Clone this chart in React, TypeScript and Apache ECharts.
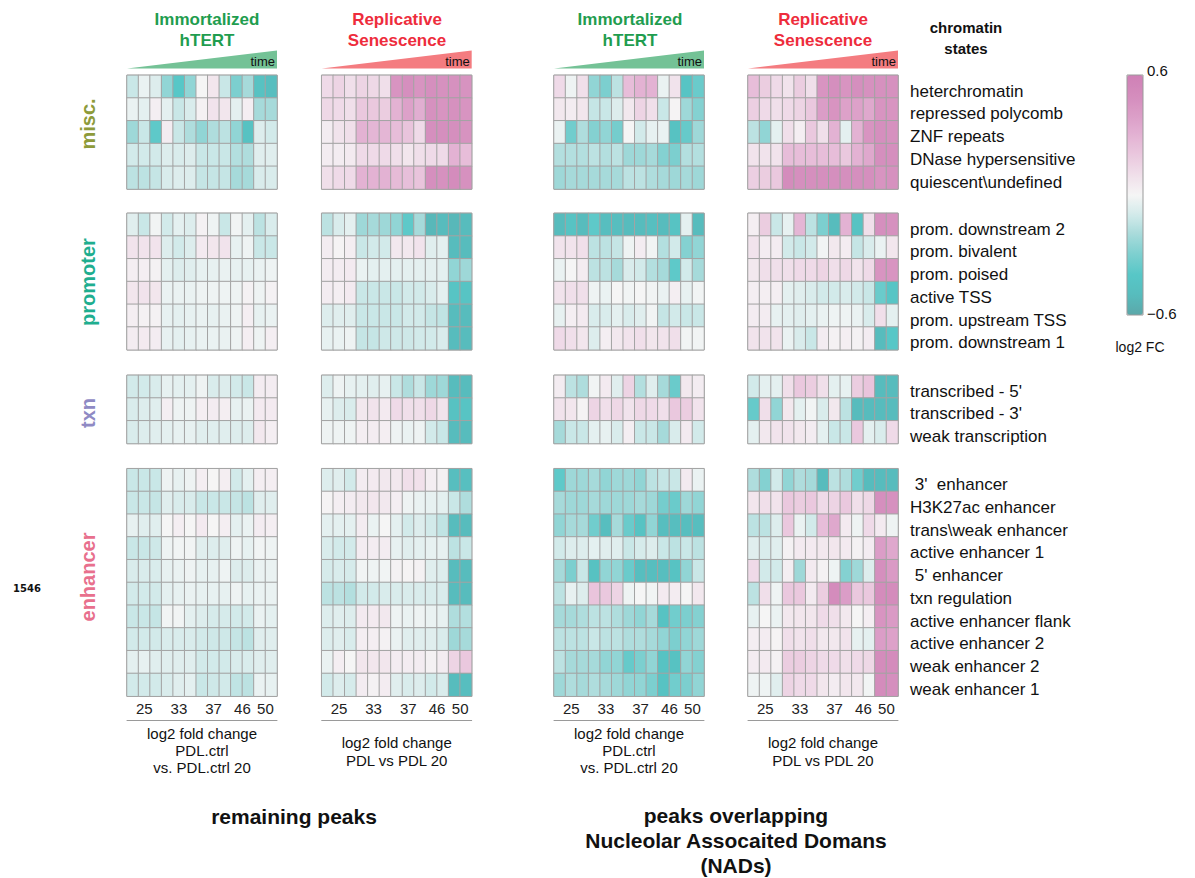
import React, { useEffect, useRef } from 'react';
import * as echarts from 'echarts';

const miscStates = ['heterchromatin', 'repressed polycomb', 'ZNF repeats', 'DNase hypersensitive', 'quiescent\\undefined'];
const promoterStates = ['prom. downstream 2', 'prom. bivalent', 'prom. poised', 'active TSS', 'prom. upstream TSS', 'prom. downstream 1'];
const txnStates = ["transcribed - 5'", "transcribed - 3'", 'weak transcription'];
const enhancerStates = [" 3'  enhancer", 'H3K27ac enhancer', 'trans\\weak enhancer', 'active enhancer 1', " 5' enhancer", 'txn regulation', 'active enhancer flank', 'active enhancer 2', 'weak enhancer 2', 'weak enhancer 1'];

const columnPDL = [25, 25, 25, 33, 33, 33, 37, 37, 37, 46, 46, 50, 50];
const pdlTicks = [25, 33, 37, 46, 50];

// Panel 1: Immortalized hTERT, remaining peaks
const hRemMisc = [
  [-0.12, -0.03, -0.07, -0.25, -0.4, -0.25, 0.0, 0.07, -0.12, -0.3, -0.2, -0.45, -0.48],
  [-0.03, -0.05, 0.03, -0.05, -0.12, -0.08, 0.02, 0.08, 0.07, -0.05, 0.03, -0.2, -0.2],
  [-0.22, -0.12, -0.38, 0.04, -0.12, -0.18, -0.25, -0.18, -0.15, -0.25, -0.45, -0.07, -0.1],
  [-0.1, -0.1, -0.1, -0.07, -0.08, -0.07, -0.12, -0.12, -0.12, -0.17, -0.18, -0.06, -0.06],
  [-0.15, -0.15, -0.13, -0.08, -0.07, -0.07, -0.13, -0.13, -0.13, -0.2, -0.2, -0.08, -0.08],
];
const hRemProm = [
  [-0.06, -0.12, -0.01, -0.1, -0.05, -0.07, 0.02, -0.02, -0.12, -0.01, -0.05, -0.15, -0.08],
  [0.08, 0.08, 0.08, -0.07, -0.1, -0.07, 0.05, 0.07, 0.08, -0.04, -0.02, -0.12, -0.12],
  [0.03, 0.03, 0.02, -0.05, -0.07, -0.06, -0.04, -0.04, -0.03, -0.04, -0.04, -0.03, -0.02],
  [0.07, 0.08, 0.07, -0.03, -0.03, -0.03, -0.02, -0.02, -0.02, -0.02, 0.02, -0.02, 0.02],
  [0.03, 0.02, 0.02, -0.04, -0.05, -0.04, -0.03, -0.04, -0.03, -0.02, 0.03, -0.04, -0.03],
  [0.04, 0.05, 0.04, -0.04, -0.05, -0.04, -0.03, -0.03, -0.03, -0.02, 0.03, -0.02, 0.03],
];
const hRemTxn = [
  [-0.1, -0.1, -0.08, -0.04, -0.05, -0.05, -0.02, -0.08, -0.07, -0.1, -0.12, 0.04, 0.04],
  [-0.08, -0.07, -0.06, 0.03, -0.02, -0.02, 0.03, 0.04, 0.03, -0.04, -0.03, 0.05, 0.05],
  [-0.08, -0.07, -0.06, -0.05, -0.04, -0.04, -0.06, -0.06, -0.06, -0.07, -0.07, 0.06, 0.03],
];
const hRemEnh = [
  [-0.12, -0.12, -0.12, -0.02, -0.04, -0.02, 0.03, 0.0, 0.03, -0.1, -0.05, 0.03, 0.03],
  [-0.12, -0.12, -0.13, -0.06, -0.08, -0.08, -0.12, -0.12, -0.12, -0.13, -0.15, -0.06, -0.06],
  [-0.04, -0.06, -0.06, 0.0, 0.03, 0.0, 0.05, 0.0, 0.03, -0.05, -0.03, 0.04, 0.03],
  [-0.12, -0.12, -0.11, -0.02, -0.01, -0.01, -0.06, -0.07, -0.06, -0.02, -0.04, -0.01, -0.02],
  [-0.08, -0.08, -0.08, -0.04, -0.03, -0.02, -0.04, -0.04, -0.02, -0.07, -0.07, -0.03, -0.03],
  [-0.1, -0.1, -0.1, -0.05, -0.04, -0.03, -0.04, -0.04, -0.04, -0.02, -0.04, -0.03, -0.03],
  [-0.12, -0.12, -0.13, -0.01, -0.01, -0.05, -0.07, -0.09, -0.09, -0.1, -0.1, -0.03, -0.05],
  [-0.1, -0.1, -0.1, -0.08, -0.08, -0.08, -0.1, -0.11, -0.11, -0.13, -0.15, -0.06, -0.06],
  [-0.05, -0.04, -0.06, -0.06, -0.06, -0.06, -0.1, -0.1, -0.1, -0.08, -0.08, -0.06, -0.06],
  [-0.1, -0.1, -0.1, -0.08, -0.06, -0.05, -0.12, -0.11, -0.1, -0.14, -0.15, -0.03, -0.04],
];

// Panel 2: Replicative Senescence, remaining peaks
const rRemMisc = [
  [0.12, 0.15, 0.1, 0.15, 0.13, 0.1, 0.45, 0.48, 0.45, 0.48, 0.47, 0.47, 0.46],
  [0.13, 0.12, 0.1, 0.2, 0.2, 0.18, 0.3, 0.38, 0.32, 0.47, 0.45, 0.47, 0.45],
  [0.04, 0.08, 0.1, 0.3, 0.28, 0.28, 0.25, 0.22, 0.12, 0.48, 0.48, 0.48, 0.46],
  [0.04, 0.04, 0.05, 0.12, 0.12, 0.12, 0.1, 0.07, 0.1, 0.12, 0.12, 0.3, 0.25],
  [0.1, 0.12, 0.12, 0.3, 0.3, 0.3, 0.26, 0.24, 0.22, 0.48, 0.47, 0.5, 0.47],
];
const rRemProm = [
  [-0.15, -0.08, -0.05, -0.22, -0.2, -0.22, -0.25, -0.38, -0.2, -0.52, -0.5, -0.52, -0.5],
  [0.04, 0.01, 0.03, -0.12, -0.1, -0.1, 0.06, 0.06, 0.08, -0.06, -0.05, -0.5, -0.5],
  [0.04, 0.04, 0.05, -0.03, -0.05, -0.05, -0.05, -0.05, -0.05, -0.05, -0.05, -0.25, -0.22],
  [0.04, 0.03, 0.05, -0.12, -0.12, -0.12, -0.12, -0.1, -0.1, -0.08, -0.05, -0.43, -0.43],
  [-0.07, -0.06, -0.06, -0.12, -0.12, -0.12, -0.12, -0.1, -0.1, -0.13, -0.14, -0.5, -0.5],
  [-0.04, -0.03, -0.02, -0.13, -0.13, -0.11, -0.11, -0.11, -0.1, -0.1, -0.08, -0.5, -0.5],
];
const rRemTxn = [
  [-0.07, -0.02, -0.04, -0.05, -0.06, -0.04, -0.12, -0.18, -0.12, -0.22, -0.22, -0.5, -0.5],
  [-0.04, -0.07, -0.08, 0.06, 0.08, 0.05, 0.12, 0.1, 0.1, 0.13, 0.08, -0.45, -0.43],
  [-0.02, -0.02, -0.02, 0.03, 0.04, 0.03, -0.02, -0.03, -0.02, -0.1, -0.12, -0.5, -0.5],
];
const rRemEnh = [
  [-0.07, -0.06, -0.1, 0.04, 0.05, 0.06, 0.06, 0.1, 0.09, 0.03, 0.02, -0.48, -0.47],
  [0.01, 0.03, 0.04, 0.06, 0.07, 0.06, 0.03, -0.02, -0.03, -0.04, -0.05, -0.12, -0.18],
  [-0.05, -0.05, -0.05, 0.04, -0.03, 0.0, -0.05, -0.1, -0.07, -0.1, -0.14, -0.5, -0.5],
  [-0.08, -0.1, -0.1, 0.04, 0.04, 0.04, -0.04, -0.06, -0.05, -0.04, -0.04, -0.15, -0.12],
  [-0.09, -0.08, -0.09, -0.01, -0.02, -0.01, 0.02, 0.01, 0.02, -0.06, -0.07, -0.5, -0.5],
  [-0.15, -0.15, -0.17, -0.1, -0.1, -0.08, -0.08, -0.08, -0.08, -0.08, -0.08, -0.5, -0.5],
  [-0.07, -0.06, -0.07, 0.05, 0.05, 0.06, -0.02, -0.03, -0.02, -0.03, -0.04, -0.18, -0.17],
  [-0.07, -0.06, -0.08, 0.03, 0.03, 0.02, -0.03, -0.06, -0.06, -0.06, -0.08, -0.22, -0.2],
  [-0.03, 0.03, 0.0, 0.07, 0.07, 0.07, 0.04, 0.04, 0.04, 0.02, 0.04, 0.15, 0.2],
  [-0.1, -0.07, -0.09, 0.04, 0.02, 0.04, -0.06, -0.08, -0.07, -0.1, -0.08, -0.5, -0.48],
];

// Panel 3: Immortalized hTERT, NAD peaks
const hNadMisc = [
  [0.12, -0.02, 0.1, -0.25, -0.3, -0.15, 0.25, 0.3, 0.3, -0.03, 0.08, -0.43, -0.35],
  [0.06, 0.04, 0.07, -0.13, -0.12, -0.07, 0.06, 0.15, 0.1, -0.12, 0.01, -0.22, -0.28],
  [-0.03, -0.33, -0.18, -0.28, -0.25, -0.32, 0.0, -0.1, -0.04, -0.03, -0.45, -0.36, -0.22],
  [-0.17, -0.17, -0.17, -0.15, -0.17, -0.15, -0.22, -0.22, -0.2, -0.28, -0.3, -0.17, -0.17],
  [-0.22, -0.2, -0.2, -0.2, -0.2, -0.2, -0.15, -0.15, -0.18, -0.2, -0.22, -0.2, -0.22],
];
const hNadProm = [
  [-0.5, -0.44, -0.5, -0.38, -0.48, -0.48, -0.5, -0.5, -0.47, -0.5, -0.44, -0.05, -0.5],
  [0.08, 0.08, 0.1, -0.15, -0.15, -0.13, -0.02, 0.04, -0.01, -0.17, -0.1, -0.28, -0.25],
  [-0.03, 0.0, 0.04, -0.15, -0.15, -0.2, -0.08, -0.1, -0.17, -0.2, -0.38, -0.1, -0.2],
  [0.08, 0.1, 0.1, -0.02, -0.03, 0.0, -0.01, 0.0, -0.01, -0.03, 0.03, -0.04, -0.01],
  [-0.04, 0.03, 0.05, -0.08, -0.08, -0.05, -0.08, -0.06, -0.01, -0.13, -0.1, -0.12, -0.12],
  [0.12, 0.1, 0.07, -0.07, 0.03, 0.06, 0.08, 0.1, 0.07, 0.08, 0.1, -0.01, -0.01],
];
const hNadTxn = [
  [0.04, -0.15, -0.18, -0.01, 0.05, -0.06, 0.15, -0.17, -0.06, -0.2, -0.35, 0.06, 0.04],
  [0.08, 0.07, 0.01, 0.15, 0.1, 0.13, 0.08, 0.13, 0.12, 0.1, 0.2, 0.18, 0.08],
  [-0.2, -0.12, -0.12, -0.05, -0.04, -0.08, 0.03, -0.12, -0.12, -0.2, -0.08, 0.05, -0.1],
];
const hNadEnh = [
  [-0.38, -0.22, -0.22, -0.2, -0.25, -0.22, -0.22, -0.25, -0.15, -0.13, -0.12, 0.05, -0.03],
  [-0.2, -0.22, -0.22, -0.2, -0.22, -0.22, -0.22, -0.2, -0.22, -0.32, -0.35, -0.22, -0.25],
  [-0.25, -0.2, -0.2, -0.33, -0.48, -0.2, -0.35, -0.44, -0.25, -0.48, -0.48, -0.48, -0.48],
  [-0.1, -0.07, -0.07, -0.05, -0.06, -0.06, -0.12, -0.09, -0.07, -0.12, -0.15, -0.12, -0.15],
  [-0.2, -0.3, -0.12, -0.45, -0.25, -0.25, -0.35, -0.48, -0.48, -0.48, -0.44, -0.25, -0.12],
  [-0.15, -0.04, -0.07, 0.22, 0.2, 0.15, -0.02, 0.0, -0.01, 0.05, 0.04, 0.0, 0.06],
  [-0.2, -0.2, -0.18, -0.15, -0.15, -0.18, -0.22, -0.25, -0.2, -0.44, -0.33, -0.3, -0.28],
  [-0.15, -0.15, -0.15, -0.12, -0.15, -0.15, -0.18, -0.18, -0.2, -0.25, -0.3, -0.25, -0.22],
  [-0.15, -0.2, -0.2, -0.2, -0.25, -0.25, -0.36, -0.3, -0.25, -0.44, -0.45, -0.25, -0.28],
  [-0.22, -0.18, -0.2, -0.18, -0.2, -0.22, -0.25, -0.25, -0.3, -0.44, -0.33, -0.3, -0.25],
];

// Panel 4: Replicative Senescence, NAD peaks
const rNadMisc = [
  [0.25, 0.18, 0.12, 0.08, 0.18, 0.1, 0.45, 0.48, 0.45, 0.48, 0.47, 0.47, 0.47],
  [0.17, 0.12, 0.1, 0.12, 0.15, 0.2, 0.4, 0.45, 0.38, 0.38, 0.35, 0.45, 0.45],
  [-0.15, -0.25, -0.05, 0.1, 0.03, 0.2, 0.1, 0.3, -0.05, 0.3, 0.45, 0.48, 0.47],
  [0.08, 0.08, 0.08, 0.25, 0.25, 0.25, 0.25, 0.25, 0.2, 0.3, 0.35, 0.48, 0.48],
  [0.17, 0.18, 0.2, 0.5, 0.48, 0.48, 0.48, 0.48, 0.48, 0.48, 0.48, 0.45, 0.47],
];
const rNadProm = [
  [0.03, 0.18, -0.12, -0.04, 0.28, -0.15, -0.3, -0.5, 0.3, -0.44, 0.1, 0.48, 0.47],
  [0.08, 0.04, 0.04, -0.1, -0.12, -0.1, -0.01, 0.06, 0.04, -0.13, -0.08, -0.03, 0.07],
  [0.06, 0.1, 0.1, 0.1, 0.12, 0.12, 0.15, 0.1, 0.13, 0.08, 0.12, 0.45, 0.45],
  [0.03, 0.03, 0.03, -0.05, -0.06, -0.08, -0.1, -0.1, -0.08, -0.1, -0.12, -0.35, -0.42],
  [0.04, 0.04, -0.04, -0.05, -0.06, -0.05, -0.03, -0.02, -0.02, -0.03, -0.08, 0.1, -0.05],
  [0.08, 0.08, 0.08, -0.03, -0.08, -0.12, 0.04, 0.02, 0.03, 0.02, 0.04, -0.5, -0.4],
];
const rNadTxn = [
  [-0.1, -0.05, -0.05, 0.1, 0.2, 0.18, 0.1, -0.05, -0.04, 0.18, 0.22, -0.5, -0.5],
  [-0.36, 0.1, -0.25, 0.06, -0.05, -0.01, -0.08, 0.06, -0.15, -0.5, -0.5, -0.5, -0.5],
  [-0.05, 0.06, 0.08, 0.08, 0.06, 0.04, -0.05, -0.12, -0.12, 0.2, -0.05, -0.08, 0.12],
];
const rNadEnh = [
  [-0.18, -0.28, -0.1, -0.25, -0.18, -0.2, -0.5, -0.15, -0.18, -0.33, -0.5, -0.5, -0.5],
  [0.07, 0.1, 0.08, 0.2, 0.18, 0.2, 0.12, 0.15, 0.2, 0.1, 0.13, 0.48, 0.47],
  [-0.15, -0.15, -0.07, 0.2, -0.03, -0.1, 0.25, 0.35, 0.05, -0.02, 0.12, 0.05, -0.02],
  [-0.06, -0.08, -0.06, 0.02, 0.05, 0.05, 0.06, 0.07, 0.05, 0.02, 0.04, 0.4, 0.35],
  [0.12, -0.1, -0.1, 0.03, -0.22, 0.05, 0.02, -0.02, -0.28, -0.22, -0.07, 0.48, 0.42],
  [-0.15, 0.1, -0.02, 0.2, 0.2, 0.05, 0.18, 0.5, 0.4, 0.2, 0.2, 0.5, 0.5],
  [-0.04, 0.0, -0.03, 0.06, 0.07, 0.07, 0.12, 0.1, 0.06, 0.0, 0.03, 0.45, 0.42],
  [0.03, 0.04, 0.01, 0.1, 0.08, 0.1, 0.06, 0.06, 0.08, -0.04, -0.05, 0.4, 0.38],
  [0.04, 0.05, 0.02, 0.18, 0.18, 0.15, 0.12, 0.12, 0.1, 0.12, 0.13, 0.5, 0.5],
  [-0.02, -0.02, -0.06, 0.15, 0.12, 0.12, 0.07, 0.04, 0.07, 0.06, -0.01, 0.5, 0.48],
];

const scaleColors = ['#5ba7a9', '#57bcbd', '#57c7c7', '#7ccfcf', '#a6dada', '#d2eaea', '#f5f5f5', '#f0dfea', '#eac8de', '#e3b2d3', '#db9dc7', '#d48cbc', '#cf80b6'];

const FONT = '"Liberation Sans", Arial, sans-serif';

export default function App() {
  const ref = useRef<HTMLDivElement>(null);

  useEffect(() => {
    if (!ref.current) return;
    const chart = echarts.init(ref.current, undefined, { renderer: 'svg' });

    const panelLefts = [127, 321.7, 554, 748];
    const panelW = 150;
    const rowH = 22.75;
    const panelData = [
      [hRemMisc, hRemProm, hRemTxn, hRemEnh],
      [rRemMisc, rRemProm, rRemTxn, rRemEnh],
      [hNadMisc, hNadProm, hNadTxn, hNadEnh],
      [rNadMisc, rNadProm, rNadTxn, rNadEnh],
    ];
    const groups = [
      { rows: miscStates, top: 75.3 },
      { rows: promoterStates, top: 213.3 },
      { rows: txnStates, top: 375.3 },
      { rows: enhancerStates, top: 468.7 },
    ];

    const colIdx = columnPDL.map((_, i) => String(i));
    const tickPos = pdlTicks.map((t) => {
      const idx = columnPDL.map((v, i) => (v === t ? i : -1)).filter((i) => i >= 0);
      return idx.reduce((a, b) => a + b, 0) / idx.length + 0.5;
    });

    const grid: any[] = [];
    const xAxis: any[] = [];
    const yAxis: any[] = [];
    const series: any[] = [];

    panelLefts.forEach((left, p) => {
      groups.forEach((g, gi) => {
        const gIndex = grid.length;
        grid.push({
          left,
          top: g.top,
          width: panelW,
          height: g.rows.length * rowH,
          show: true,
          borderColor: '#8a8a8a',
          borderWidth: 1,
          backgroundColor: 'transparent',
        });
        const xi = xAxis.length;
        xAxis.push({ type: 'category', gridIndex: gIndex, data: colIdx, show: false });
        const yi = yAxis.length;
        yAxis.push({
          type: 'category',
          gridIndex: gIndex,
          data: g.rows,
          inverse: true,
          position: 'right',
          show: p === 3,
          axisLine: { show: false },
          axisTick: { show: false },
          splitLine: { show: false },
          axisLabel: {
            show: p === 3,
            margin: 12,
            fontSize: 17,
            color: '#111',
            fontFamily: FONT,
            verticalAlign: 'top',
            lineHeight: 9,
          },
        });
        const vals = panelData[p][gi];
        const data: any[] = [];
        vals.forEach((row, r) => row.forEach((v, c) => data.push([c, r, v])));
        series.push({
          type: 'heatmap',
          xAxisIndex: xi,
          yAxisIndex: yi,
          data,
          itemStyle: { borderColor: '#a3a3a3', borderWidth: 1 },
          emphasis: { disabled: true },
        });
        if (gi === 3) {
          xAxis.push({
            type: 'value',
            gridIndex: gIndex,
            min: 0,
            max: columnPDL.length,
            position: 'bottom',
            offset: 24,
            splitLine: { show: false },
            axisTick: { show: false },
            axisLine: { show: true, lineStyle: { color: '#9a9a9a', width: 1 } },
            axisLabel: {
              inside: true,
              margin: 4,
              fontSize: 15,
              color: '#222',
              fontFamily: FONT,
              customValues: tickPos,
              formatter: (val: number) => {
                const k = tickPos.findIndex((tp) => Math.abs(tp - val) < 1e-6);
                return k >= 0 ? String(pdlTicks[k]) : '';
              },
            },
          });
        }
      });
    });

    const panelCenters = panelLefts.map((l) => l + panelW / 2);
    const graphics: any[] = [];
    const txt = (text: string, x: number, y: number, opts: any = {}) => ({
      type: 'text',
      x,
      y,
      rotation: opts.rotation || 0,
      style: {
        text,
        fill: opts.fill || '#111',
        font: `${opts.bold ? 'bold ' : ''}${opts.size || 14}px ${opts.family || FONT}`,
        align: opts.align || 'center',
        verticalAlign: 'middle',
      },
    });

    // Titles and wedges
    const titleDefs = [
      { lines: ['Immortalized', 'hTERT'], color: '#1f9d4f', wedge: '#74c296', cx: 207 },
      { lines: ['Replicative', 'Senescence'], color: '#ee2c3c', wedge: '#f47c80', cx: 397 },
      { lines: ['Immortalized', 'hTERT'], color: '#1f9d4f', wedge: '#74c296', cx: 630 },
      { lines: ['Replicative', 'Senescence'], color: '#ee2c3c', wedge: '#f47c80', cx: 823 },
    ];
    titleDefs.forEach((t, p) => {
      graphics.push(txt(t.lines[0], t.cx, 19, { bold: true, size: 17, fill: t.color }));
      graphics.push(txt(t.lines[1], t.cx, 40, { bold: true, size: 17, fill: t.color }));
      const l = panelLefts[p];
      graphics.push({
        type: 'polygon',
        shape: { points: [[l, 68.5], [l + panelW, 50.5], [l + panelW, 68.5]] },
        style: { fill: t.wedge },
      });
      graphics.push(txt('time', l + panelW - 2, 61, { size: 13, align: 'right', fill: '#111' }));
    });

    graphics.push(txt('chromatin', 966, 27, { bold: true, size: 15 }));
    graphics.push(txt('states', 966, 48, { bold: true, size: 15 }));

    // Group labels on the left
    const groupLabels = [
      { text: 'misc.', y: 124, color: '#8e9b3a' },
      { text: 'promoter', y: 282, color: '#1fae8f' },
      { text: 'txn', y: 413, color: '#8f8ac4' },
      { text: 'enhancer', y: 577, color: '#e8708d' },
    ];
    groupLabels.forEach((g) =>
      graphics.push(txt(g.text, 88, g.y, { bold: true, size: 20, fill: g.color, rotation: Math.PI / 2 }))
    );
    graphics.push(txt('1546', 27, 588, { bold: true, size: 10, family: '"DejaVu Sans", sans-serif', fill: '#111' }));

    // Axis captions
    const capA = ['log2 fold change', 'PDL.ctrl', 'vs. PDL.ctrl 20'];
    const capB = ['log2 fold change', 'PDL vs PDL 20'];
    [0, 2].forEach((p) =>
      capA.forEach((s, i) => graphics.push(txt(s, panelCenters[p], 733 + i * 17, { size: 15 })))
    );
    [1, 3].forEach((p) =>
      capB.forEach((s, i) => graphics.push(txt(s, panelCenters[p], 742 + i * 18, { size: 15 })))
    );

    graphics.push(txt('remaining peaks', 294, 816, { bold: true, size: 21 }));
    ['peaks overlapping', 'Nucleolar Assocaited Domans', '(NADs)'].forEach((s, i) =>
      graphics.push(txt(s, 736, 815 + i * 25, { bold: true, size: 21 }))
    );

    // Colour bar frame and labels
    graphics.push({
      type: 'rect',
      shape: { x: 1127, y: 75, width: 16, height: 240 },
      style: { fill: 'none', stroke: '#9a9a9a', lineWidth: 1 },
      z: 100,
    });
    graphics.push(txt('0.6', 1147, 70, { size: 15, align: 'left' }));
    graphics.push(txt('\u22120.6', 1147, 313, { size: 15, align: 'left' }));
    graphics.push(txt('log2 FC', 1140, 347, { size: 14 }));

    chart.setOption({
      animation: false,
      backgroundColor: '#ffffff',
      textStyle: { fontFamily: FONT },
      grid,
      xAxis,
      yAxis,
      visualMap: {
        type: 'continuous',
        min: -0.6,
        max: 0.6,
        show: true,
        calculable: false,
        hoverLink: false,
        orient: 'vertical',
        left: 1127,
        top: 75,
        itemWidth: 16,
        itemHeight: 240,
        padding: 0,
        text: ['', ''],
        textGap: 0,
        inRange: { color: scaleColors },
      },
      series,
      graphic: graphics,
    });

    return () => chart.dispose();
  }, []);

  return (
    <div
      ref={ref}
      style={{ position: 'fixed', left: 0, top: 0, width: 1195, height: 878, background: '#fff' }}
    />
  );
}
